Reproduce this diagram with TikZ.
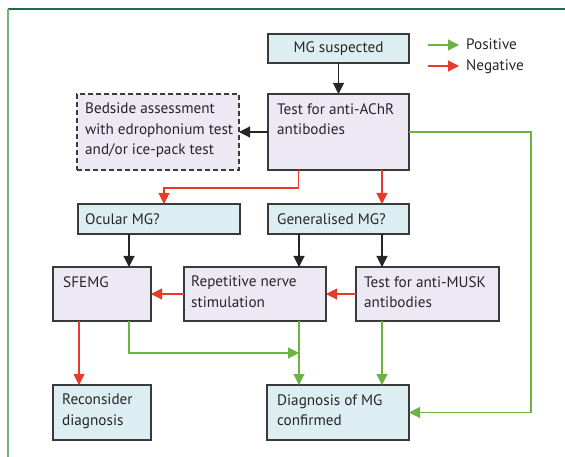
\documentclass[tikz,border=0pt]{standalone}
\usepackage{fontspec}
\setmainfont{PT Sans}
\usetikzlibrary{arrows.meta}
\definecolor{bluefill}{HTML}{DDEEF3}
\definecolor{lavfill}{HTML}{ECE8F4}
\definecolor{bordc}{HTML}{3A3A3A}
\definecolor{posc}{HTML}{6DB33F}
\definecolor{negc}{HTML}{E8392A}
\definecolor{framedark}{HTML}{1F6B45}
\definecolor{framelight}{HTML}{6CB87E}
\begin{document}
\begin{tikzpicture}[x=1pt,y=-1pt,
 box/.style={draw=bordc,line width=1.2pt,anchor=north west,inner sep=0pt,outer sep=0pt},
 bluebox/.style={box,fill=bluefill},
 lavbox/.style={box,fill=lavfill},
 txt/.style={anchor=north west,inner sep=0pt,align=left,font=\fontsize{15.2}{20.5}\selectfont,text=black!85},
 arr/.style={line width=1.1pt,-{Triangle[length=11pt,width=11pt]}},
 blk/.style={arr,draw=black!85},
 posa/.style={arr,draw=posc},
 nega/.style={arr,draw=negc}]
\useasboundingbox (0,0) rectangle (565,457);
% frame
\coordinate (f0) at (8,9);
\coordinate (f1) at (565,9);
\coordinate (f2) at (8,457);
\draw[framedark,line width=1.2pt] (f0) -- (f1);
\draw[framelight,line width=1.2pt] (f0) -- (f2);

% boxes
\node[bluebox,minimum width=141,minimum height=29] (sus) at (268,34) {};
\node[lavbox,minimum width=141,minimum height=76] (test) at (268,94) {};
\node[lavbox,dash pattern=on 5pt off 3pt,minimum width=162,minimum height=76] (bed) at (77,94) {};
\node[bluebox,minimum width=162,minimum height=30] (ocu) at (78,204) {};
\node[bluebox,minimum width=141,minimum height=30] (gen) at (268,204) {};
\node[lavbox,minimum width=98,minimum height=54] (sfe) at (53,267) {};
\node[lavbox,minimum width=142,minimum height=54] (rep) at (184,267) {};
\node[lavbox,minimum width=143,minimum height=54] (musk) at (356,267) {};
\node[bluebox,minimum width=98,minimum height=55] (rec) at (53,385) {};
\node[bluebox,minimum width=142,minimum height=55] (diag) at (267,385) {};

% texts
\node[txt,anchor=center] (sust) at (sus.center) {MG suspected};
\node[txt] (testt) at ([shift={(9,9)}]test.north west) {Test for anti-AChR\\antibodies};
\node[txt] (bedt) at ([shift={(8,9)}]bed.north west) {Bedside assessment\\with edrophonium test\\and/or ice-pack test};
\node[txt] (ocut) at ([shift={(7,9)}]ocu.north west) {Ocular MG?};
\node[txt] (gent) at ([shift={(9,9)}]gen.north west) {Generalised MG?};
\node[txt] (sfet) at ([shift={(10,9)}]sfe.north west) {SFEMG};
\node[txt] (rept) at ([shift={(7,9)}]rep.north west) {Repetitive nerve\\stimulation};
\node[txt] (muskt) at ([shift={(8,9)}]musk.north west) {Test for anti-MUSK\\antibodies};
\node[txt] (rect) at ([shift={(9,9)}]rec.north west) {Reconsider\\diagnosis};
\node[txt] (diagt) at ([shift={(10,9)}]diag.north west) {Diagnosis of MG\\confirmed};

% legend
\coordinate (pa) at (428,45);
\coordinate (pb) at (459,45);
\coordinate (na) at (428,66);
\coordinate (nb) at (459,66);
\draw[posa] (pa) -- (pb);
\draw[nega] (na) -- (nb);
\node[txt,anchor=base west] (post) at (466,50) {Positive};
\node[txt,anchor=base west] (negt) at (466,71) {Negative};

% connectors
\draw[blk] (sus.south) -- (test.north);
\draw[blk] (test.west) -- (bed.east);
\draw[nega] ([xshift=-40pt]test.south) -- ++(0,18) -| ([xshift=5pt]ocu.north);
\draw[nega] ([xshift=43.5pt]test.south) -- ([xshift=43.5pt]gen.north);
\draw[posa] (test.east) -- ++(122,0) |- (diag.east);
\draw[blk] ([xshift=-30pt]ocu.south) -- ([xshift=-30pt]ocu.south |- sfe.north);
\draw[blk] ([xshift=-39.5pt]gen.south) -- ([xshift=-39.5pt]gen.south |- rep.north);
\draw[blk] ([xshift=43.5pt]gen.south) -- ([xshift=43.5pt]gen.south |- musk.north);
\draw[nega] (rep.west) -- (sfe.east);
\draw[nega] (musk.west) -- (rep.east);
\draw[nega] ([xshift=-23pt]sfe.south) -- ([xshift=-23pt]sfe.south |- rec.north);
\path ([xshift=44pt]rep.south) ++(0,32) coordinate (j);
\draw[posa] ([xshift=27pt]sfe.south) |- (j);
\draw[posa] ([xshift=44pt]rep.south) -- ([xshift=44pt]rep.south |- diag.north);
\draw[posa] ([xshift=-45.5pt]musk.south) -- ([xshift=-45.5pt]musk.south |- diag.north);
\end{tikzpicture}
\end{document}
